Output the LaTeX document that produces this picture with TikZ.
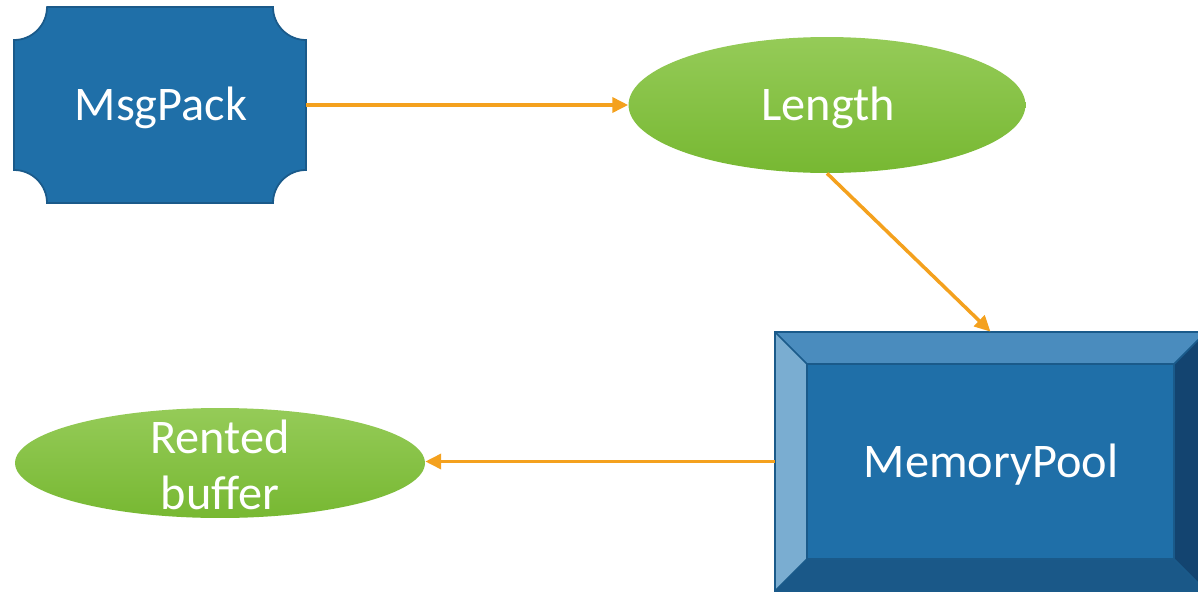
\documentclass[tikz,border=0pt]{standalone}
\usepackage{fontspec}
\setmainfont{Carlito}
\usetikzlibrary{shapes.geometric,arrows.meta}
\definecolor{boxblue}{HTML}{1F6FA8}
\definecolor{boxline}{HTML}{1A5A8A}
\definecolor{greentop}{HTML}{95CB58}
\definecolor{greenbot}{HTML}{77B832}
\definecolor{arrorange}{HTML}{F4A11E}
\definecolor{bevtop}{HTML}{4A8CBE}
\definecolor{bevleft}{HTML}{7AADD1}
\definecolor{bevright}{HTML}{134470}
\definecolor{bevbot}{HTML}{1A5888}

\begin{document}
\begin{tikzpicture}[x=0.02cm,y=-0.02cm,
    lbl/.style={text=white,font=\fontsize{27.5}{32}\selectfont,align=center},
    blob/.style={ellipse,top color=greentop,bottom color=greenbot,draw=none,inner sep=0pt},
    link/.style={draw=arrorange,line width=2pt,-{Triangle[length=9pt,width=8.5pt]}}]
    \clip (0,0) rectangle (1198,592);
    % MsgPack plaque
    \draw[fill=boxblue,draw=boxline,line width=1pt]
      (47,7) -- (273,7) arc[start angle=180,end angle=270,radius=0.66cm]
      -- (306,170) arc[start angle=90,end angle=180,radius=0.66cm]
      -- (47,203) arc[start angle=0,end angle=90,radius=0.66cm]
      -- (14,40) arc[start angle=-90,end angle=0,radius=0.66cm] -- cycle;
    \node[minimum width=5.84cm,minimum height=3.92cm] (msg) at (160,105) {};
    \node[lbl] (msgtxt) at (161,108) {MsgPack};
    % ellipses
    \node[blob,minimum width=7.94cm,minimum height=2.72cm] (len) at (827,105) {};
    \node[lbl] (lentxt) at (828,108) {Length};
    \node[blob,minimum width=8.2cm,minimum height=2.2cm] (rent) at (220,463) {};
    \node[lbl] (renttxt) at (220,465) {Rented\\buffer};
    % MemoryPool bevel
    \fill[bevtop] (775,332) -- (1206,332) -- (1174,364) -- (807,364) -- cycle;
    \fill[bevleft] (775,332) -- (807,364) -- (807,559) -- (775,591) -- cycle;
    \fill[bevright] (1206,332) -- (1174,364) -- (1174,559) -- (1206,591) -- cycle;
    \fill[bevbot] (775,591) -- (807,559) -- (1174,559) -- (1206,591) -- cycle;
    \draw[boxline,line width=1pt] (775,332) -- (807,364) (1206,332) -- (1174,364)
      (775,591) -- (807,559) (1206,591) -- (1174,559);
    \draw[fill=boxblue,draw=boxline,line width=1pt] (807,364) rectangle (1174,559);
    \draw[boxline,line width=1pt] (775,332) rectangle (1206,591);
    \node[minimum width=8.62cm,minimum height=5.18cm] (pool) at (990.5,461.5) {};
    \node[lbl] (pooltxt) at (991,465) {MemoryPool};
    % arrows
    \draw[link] (msg.east) -- (len.west);
    \draw[link] (len.south) -- (pool.north);
    \draw[link] (pool.west) -- (pool.west -| rent.east);
\end{tikzpicture}
\end{document}
